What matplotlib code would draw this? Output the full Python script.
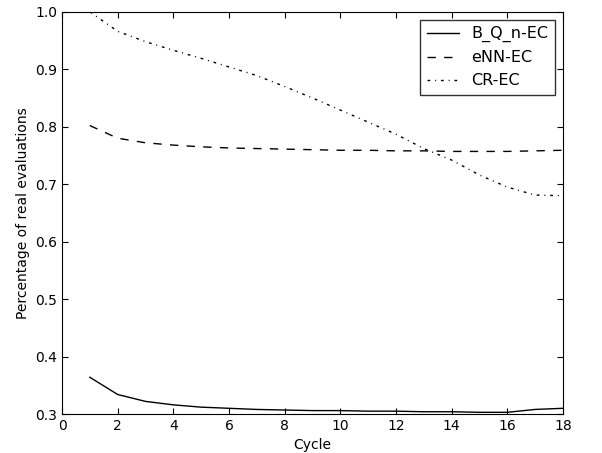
import numpy as np
import matplotlib
matplotlib.use('Agg')
import matplotlib.pyplot as plt

# dane
cycles = np.arange(1, 19)
bqn_ec = [0.364, 0.334, 0.322, 0.316, 0.312, 0.310, 0.308, 0.307, 0.306,
          0.306, 0.305, 0.305, 0.304, 0.304, 0.303, 0.303, 0.308, 0.310]
enn_ec = [0.802, 0.780, 0.772, 0.768, 0.765, 0.763, 0.762, 0.761, 0.760,
          0.759, 0.759, 0.758, 0.758, 0.757, 0.757, 0.757, 0.758, 0.759]
cr_ec = [1.000, 0.966, 0.948, 0.933, 0.919, 0.904, 0.889, 0.870, 0.850,
         0.829, 0.808, 0.787, 0.762, 0.742, 0.716, 0.695, 0.681, 0.680]

fig = plt.figure(figsize=(6.02, 4.53), dpi=100)
ax = fig.add_axes([0.103, 0.086, 0.832, 0.888])

ax.plot(cycles, bqn_ec, 'k-', lw=1, label='B_Q_n-EC')
ax.plot(cycles, enn_ec, 'k--', lw=1, dashes=(6, 6), label='eNN-EC')
ax.plot(cycles, cr_ec, 'k', lw=1, dashes=(2, 3.5, 0.7, 3.5), label='CR-EC')

ax.set_xlim(0, 18)
ax.set_ylim(0.3, 1.0)
ax.set_xticks(np.arange(0, 19, 2))
ax.set_yticks(np.arange(0.3, 1.01, 0.1))
ax.tick_params(direction='in', top=True, right=True, labelsize=10, length=4)
ax.set_xlabel('Cycle', fontsize=10)
ax.set_ylabel('Percentage of real evaluations', fontsize=10)

leg = ax.legend(loc='upper right', fontsize=11.5, fancybox=False, handlelength=2)
leg.get_frame().set_edgecolor('k')

fig.savefig('out.png', dpi=100)
